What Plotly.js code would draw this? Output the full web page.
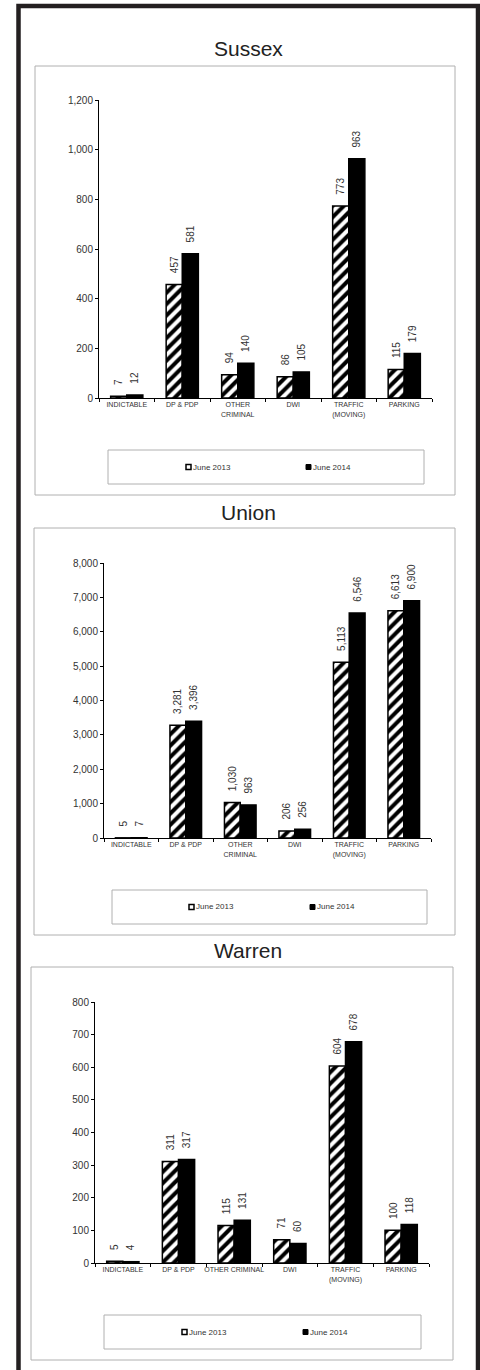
<!DOCTYPE html>
<html>
<head>
<meta charset="utf-8">
<script src="https://cdn.plot.ly/plotly-3.0.1.min.js"></script>
<style>html,body{margin:0;padding:0;background:#fff;}#chart{width:480px;height:1370px;}</style>
</head>
<body>
<div id="chart"></div>
<script>
// ---- data ----
const categories = ['INDICTABLE', 'DP & PDP', 'OTHER<br>CRIMINAL', 'DWI', 'TRAFFIC<br>(MOVING)', 'PARKING'];
const categoriesWarren = ['INDICTABLE', 'DP & PDP', 'OTHER CRIMINAL', 'DWI', 'TRAFFIC<br>(MOVING)', 'PARKING'];
const seriesNames = ['June 2013', 'June 2014'];
const chartTitles = ['Sussex', 'Union', 'Warren'];
const sussex2013 = [7, 457, 94, 86, 773, 115];
const sussex2014 = [12, 581, 140, 105, 963, 179];
const union2013 = [5, 3281, 1030, 206, 5113, 6613];
const union2014 = [7, 3396, 963, 256, 6546, 6900];
const warren2013 = [5, 311, 115, 71, 604, 100];
const warren2014 = [4, 317, 131, 60, 678, 118];
const yMax = [1200, 8000, 800];
const yStep = [200, 1000, 100];

// ---- layout helpers (pixel -> paper) ----
const W = 480, H = 1370;
const fx = x => x / W;
const fy = y => 1 - y / H;
const FONT = 'Liberation Sans, Arial, sans-serif';
const TXT = '#333333';

const panels = [
  {cats: categories, a: sussex2013, b: sussex2014, plot: [99, 432, 100, 398], box: [35, 455, 66, 495], titleY: 48, leg: [108, 424, 450, 484], m1: 186, m2: 306},
  {cats: categories, a: union2013, b: union2014, plot: [104, 431, 563, 838], box: [34, 455, 528, 935], titleY: 512, leg: [112, 427, 890, 924], m1: 189, m2: 310},
  {cats: categoriesWarren, a: warren2013, b: warren2014, plot: [95, 429, 1002, 1263], box: [31, 453, 967, 1360], titleY: 950, leg: [104, 421, 1315, 1349], m1: 182, m2: 303}
];

const traces = [];
const layout = {
  width: W, height: H,
  margin: {l: 0, r: 0, t: 0, b: 0},
  paper_bgcolor: '#ffffff', plot_bgcolor: '#ffffff',
  showlegend: false, barmode: 'group', bargap: 0.42, bargroupgap: 0,
  font: {family: FONT, color: TXT},
  shapes: [], annotations: []
};

// outer black frame
layout.shapes.push({type: 'rect', xref: 'paper', yref: 'paper', x0: fx(18.5), x1: fx(478), y0: fy(1375), y1: fy(6), line: {color: '#231f20', width: 4.5}, fillcolor: 'rgba(0,0,0,0)', layer: 'below'});

panels.forEach((p, i) => {
  const n = i === 0 ? '' : String(i + 1);
  const xa = 'x' + n, ya = 'y' + n;
  const labelText = '\u00a0\u00a0\u00a0%{y:,}';
  traces.push({
    type: 'bar', name: seriesNames[0], x: p.cats, y: p.a, xaxis: xa, yaxis: ya,
    marker: {color: '#ffffff', line: {color: '#000000', width: 1.5},
      pattern: {shape: '/', fgcolor: '#000000', bgcolor: '#ffffff', size: 8, solidity: 0.5}},
    texttemplate: labelText, textposition: 'outside', textangle: -90, constraintext: 'none', cliponaxis: false,
    textfont: {family: FONT, size: 10, color: TXT}, hoverinfo: 'skip'
  });
  traces.push({
    type: 'bar', name: seriesNames[1], x: p.cats, y: p.b, xaxis: xa, yaxis: ya,
    marker: {color: '#000000', line: {color: '#000000', width: 1.5}},
    texttemplate: labelText, textposition: 'outside', textangle: -90, constraintext: 'none', cliponaxis: false,
    textfont: {family: FONT, size: 10, color: TXT}, hoverinfo: 'skip'
  });
  const [x0, x1, y0, y1] = p.plot;
  layout['xaxis' + n] = {
    domain: [fx(x0), fx(x1)], anchor: ya, type: 'category', range: [-0.5, 5.5], tickangle: 0,
    showline: true, linecolor: '#000000', linewidth: 1, ticks: 'outside', tickson: 'boundaries', ticklen: 3, tickcolor: '#000000',
    tickfont: {family: FONT, size: 7, color: TXT}, showgrid: false, zeroline: false, fixedrange: true
  };
  layout['yaxis' + n] = {
    domain: [fy(y1), fy(y0)], anchor: xa, range: [0, yMax[i]], dtick: yStep[i], tickformat: ',',
    showline: true, linecolor: '#000000', linewidth: 1, ticks: 'outside', ticklen: 3, tickcolor: '#000000',
    tickfont: {family: FONT, size: 10, color: TXT}, showgrid: false, zeroline: false, fixedrange: true
  };
  // chart box
  layout.shapes.push({type: 'rect', xref: 'paper', yref: 'paper', x0: fx(p.box[0]), x1: fx(p.box[1]), y0: fy(p.box[3]), y1: fy(p.box[2]), line: {color: '#b0b0b0', width: 1}, layer: 'below'});
  // legend box
  layout.shapes.push({type: 'rect', xref: 'paper', yref: 'paper', x0: fx(p.leg[0]), x1: fx(p.leg[1]), y0: fy(p.leg[3]), y1: fy(p.leg[2]), line: {color: '#b0b0b0', width: 1}, layer: 'below'});
  const ly = (p.leg[2] + p.leg[3]) / 2;
  layout.shapes.push({type: 'rect', xref: 'paper', yref: 'paper', x0: fx(p.m1), x1: fx(p.m1 + 5), y0: fy(ly + 2.5), y1: fy(ly - 2.5), line: {color: '#000000', width: 1.5}, fillcolor: '#ffffff'});
  layout.shapes.push({type: 'rect', xref: 'paper', yref: 'paper', x0: fx(p.m2), x1: fx(p.m2 + 5), y0: fy(ly + 2.5), y1: fy(ly - 2.5), line: {color: '#000000', width: 1}, fillcolor: '#000000'});
  layout.annotations.push({xref: 'paper', yref: 'paper', x: fx(p.m1 + 5), y: fy(ly), xanchor: 'left', yanchor: 'middle', showarrow: false, text: seriesNames[0], font: {family: FONT, size: 8, color: TXT}});
  layout.annotations.push({xref: 'paper', yref: 'paper', x: fx(p.m2 + 5), y: fy(ly), xanchor: 'left', yanchor: 'middle', showarrow: false, text: seriesNames[1], font: {family: FONT, size: 8, color: TXT}});
  // title
  layout.annotations.push({xref: 'paper', yref: 'paper', x: fx(248), y: fy(p.titleY), xanchor: 'center', yanchor: 'middle', showarrow: false, text: chartTitles[i], font: {family: FONT, size: 21, color: '#222222'}});
});

Plotly.newPlot('chart', traces, layout, {staticPlot: true, displayModeBar: false});
</script>
</body>
</html>
